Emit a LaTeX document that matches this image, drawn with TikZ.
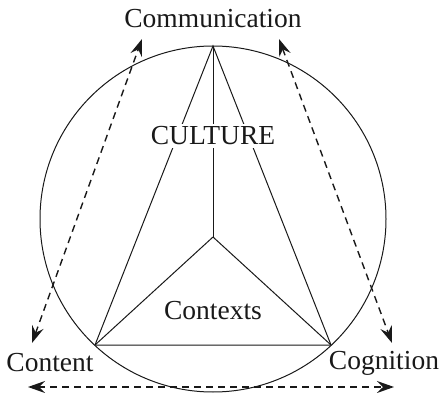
\documentclass[tikz,border=0pt]{standalone}
\usepackage{fontspec}
\setmainfont{Liberation Serif}
\usetikzlibrary{arrows.meta}
\begin{document}
\begin{tikzpicture}[x=1pt,y=-1pt,
  solid line/.style={line width=1pt,black!90},
  dasharrow/.style={line width=1.4pt,black!90,dash pattern=on 7pt off 5pt,{Stealth[length=17pt,width=12pt,inset=6pt]}-{Stealth[length=17pt,width=12pt,inset=6pt]}},
  lbl/.style={font=\fontsize{27.5}{30}\selectfont,text=black!90,inner sep=0pt}]
\useasboundingbox (0,0) rectangle (439,393);
\coordinate (cc) at (213,219);
\draw[solid line] (cc) circle (173);
\coordinate (T) at (213,46);
\coordinate (L) at (95,345);
\coordinate (R) at (331,345);
\coordinate (M) at (213,237);
\draw[solid line] (T) -- (L) -- (R) -- cycle;
\draw[solid line] (M) -- (T);
\draw[solid line] (M) -- (L);
\draw[solid line] (M) -- (R);
\node[lbl] (comm) at (213,19) {Communication};
\node[lbl,fill=white,inner ysep=3pt,inner xsep=1pt] (cult) at (213,136) {CULTURE};
\node[lbl] (ctx) at (213,311) {Contexts};
\node[lbl] (cont) at (50,363) {Content};
\node[lbl] (cogn) at (384,363) {Cognition};
\coordinate (a1) at (32,343);
\coordinate (a2) at (142,39);
\coordinate (b1) at (279,39);
\coordinate (b2) at (392,343);
\coordinate (c1) at (28,387);
\coordinate (c2) at (394,387);
\draw[dasharrow] (a1) -- (a2);
\draw[dasharrow] (b1) -- (b2);
\draw[dasharrow] (c1) -- (c2);
\end{tikzpicture}
\end{document}
